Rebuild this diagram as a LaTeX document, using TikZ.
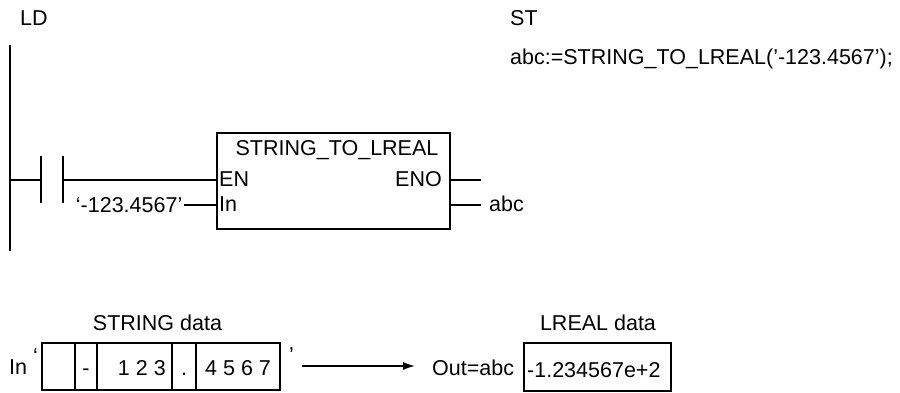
\documentclass[tikz,border=0pt]{standalone}
\usepackage{fontspec}
\setmainfont{Liberation Sans}
\usetikzlibrary{arrows.meta}

\begin{document}
\begin{tikzpicture}[x=1pt, y=-1pt,
  wire/.style={line width=1.6pt},
  lbl/.style={font=\fontsize{21.5}{25}\selectfont, inner sep=0pt},
  cellbox/.style={draw, line width=1.6pt, inner sep=0pt}]

\useasboundingbox (0,0) rectangle (900,392);

% headings
\node[lbl, anchor=base west] (ldlbl) at (20,25) {LD};
\node[lbl, anchor=base west] (stlbl) at (510,25) {ST};
\node[lbl, anchor=base west] (stcode) at (510,64) {abc:=STRING\_TO\_LREAL('-123.4567');};

% power rail and contact
\coordinate (railtop) at (10,45);
\coordinate (railbot) at (10,251);
\draw[wire] (railtop) -- (railbot);
\coordinate (rungl) at (10,180);
\coordinate (ca) at (41,180);
\coordinate (cb) at (63,180);
\draw[wire] (41,156) -- (41,203);
\draw[wire] (63,156) -- (63,203);
\draw[wire] (rungl) -- (ca);

% function block
\node[cellbox, anchor=north west, minimum width=233pt, minimum height=96pt] (fb) at (216,132) {};
\node[lbl, anchor=base] (fbname) at (337,155) {STRING\_TO\_LREAL};
\coordinate (en) at (216,180);
\coordinate (in) at (216,205);
\coordinate (eno) at (449,180);
\coordinate (out) at (449,205);
\node[lbl, anchor=base west] (enlbl) at (219,186) {EN};
\node[lbl, anchor=base west] (inlbl) at (219,211) {In};
\node[lbl, anchor=base east] (enolbl) at (442,186) {ENO};
\draw[wire] (cb) -- (en);

\node[lbl, anchor=base east, inner xsep=1.5pt] (inval) at (184,212) {`-123.4567'};
\draw[wire] (inval.east |- in) -- (in);
\coordinate (enoend) at (481,180);
\coordinate (outend) at (481,205);
\draw[wire] (eno) -- (enoend);
\draw[wire] (out) -- (outend);
\node[lbl, anchor=base west] (abc) at (489,211) {abc};

% conversion example
\node[lbl, anchor=base] (strlbl) at (157.5,330) {STRING data};
\node[lbl, anchor=base west] (inname) at (9,374) {In};
\node[lbl, anchor=base west] (qopen) at (33,363) {`};
\draw[wire] (42,343) rectangle (280,390);
\foreach \x in {75,97,172,196}
  \draw[wire] (\x,343) -- (\x,390);
\node[lbl, anchor=base] (cminus) at (86,375) {-};
\node[lbl, anchor=base east] (cint) at (166,375) {1 2 3};
\node[lbl, anchor=base] (cdot) at (184,375) {.};
\node[lbl, anchor=base west] (cfrac) at (205,375) {4 5 6 7};
\node[lbl, anchor=base west] (qclose) at (289,362) {'};

\node[lbl, anchor=base west] (outlbl) at (432,375) {Out=abc};
\coordinate (arrstart) at (302,366);
\draw[wire, -{Latex[length=12pt, width=8pt]}] (arrstart) -- ([xshift=-17pt]outlbl.west |- arrstart);

\node[lbl, anchor=base] (lreallbl) at (598,330) {LREAL data};
\node[cellbox, anchor=north west, minimum width=147pt, minimum height=48pt] (lrealbox) at (523,342) {};
\node[lbl, anchor=base west] (lrealval) at (527,377) {-1.234567e+2};

\end{tikzpicture}
\end{document}
